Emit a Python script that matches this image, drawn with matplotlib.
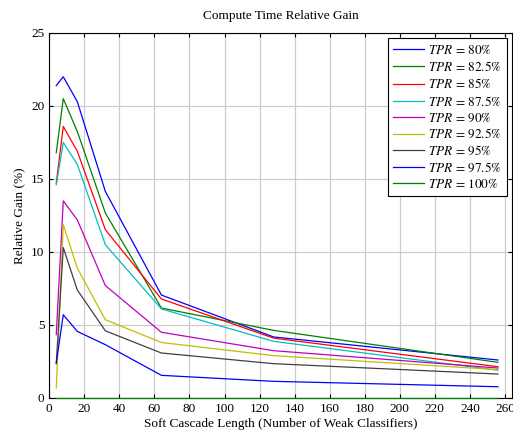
import numpy as np
import matplotlib
matplotlib.use("Agg")
import matplotlib.pyplot as plt

# data
cascade_len = [4, 8, 16, 32, 64, 128, 256]
tpr_labels = ["80", "82.5", "85", "87.5", "90", "92.5", "95", "97.5", "100"]
gain_80 = [21.4, 22.0, 20.3, 14.15, 7.05, 4.18, 2.6]
gain_825 = [16.8, 20.5, 18.26, 12.67, 6.16, 4.63, 2.44]
gain_85 = [14.7, 18.6, 16.9, 11.53, 6.78, 4.1, 2.14]
gain_875 = [14.6, 17.5, 16.0, 10.5, 6.1, 3.88, 1.9]
gain_90 = [4.34, 13.5, 12.2, 7.7, 4.5, 3.24, 2.05]
gain_925 = [0.68, 11.87, 8.9, 5.36, 3.8, 2.9, 1.94]
gain_95 = [2.35, 10.3, 7.4, 4.6, 3.08, 2.35, 1.64]
gain_975 = [2.4, 5.7, 4.56, 3.65, 1.55, 1.14, 0.77]
gain_100 = [0, 0, 0, 0, 0, 0, 0]

gains = [gain_80, gain_825, gain_85, gain_875, gain_90, gain_925, gain_95, gain_975, gain_100]
colors = ['#0000ff', '#008000', '#ff0000', '#00bfbf', '#bf00bf', '#bfbf00', '#404040', '#0000ff', '#008000']

plt.rcParams['font.family'] = ['Liberation Serif', 'DejaVu Serif']
plt.rcParams['mathtext.fontset'] = 'stix'

fig = plt.figure(figsize=(5.13, 4.34), dpi=100)
ax = fig.add_axes([0.096, 0.083, 0.902, 0.841])

x = np.array(cascade_len)
for g, c, lab in zip(gains, colors, tpr_labels):
	ax.plot(x, np.array(g), color=c, linewidth=0.9, label=r'$TPR\,=\,%s\%%$' % lab, clip_on=False, zorder=3)

ax.set_xlim(0, 264)
ax.set_ylim(0, 25)
ax.set_xticks(np.arange(0, 261, 20))
ax.set_yticks(np.arange(0, 26, 5))
ax.grid(color='#cccccc', linewidth=0.9)
ax.set_axisbelow(True)
ax.tick_params(direction='in', top=True, right=True, labelsize=9.5, length=3)
for s in ax.spines.values():
	s.set_linewidth(0.8)

ax.set_title('Compute Time Relative Gain', fontsize=9.5, pad=10)
ax.set_xlabel('Soft Cascade Length (Number of Weak Classifiers)', fontsize=9.5, labelpad=2)
ax.set_ylabel('Relative Gain (%)', fontsize=9.5, labelpad=4)

leg = ax.legend(loc='upper right', fontsize=9.5, fancybox=False, framealpha=1,
	edgecolor='black', handlelength=2.3, borderaxespad=0.4, labelspacing=0.26,
	handletextpad=0.3, borderpad=0.4)
leg.get_frame().set_linewidth(0.8)

fig.savefig('out.png', dpi=100)
